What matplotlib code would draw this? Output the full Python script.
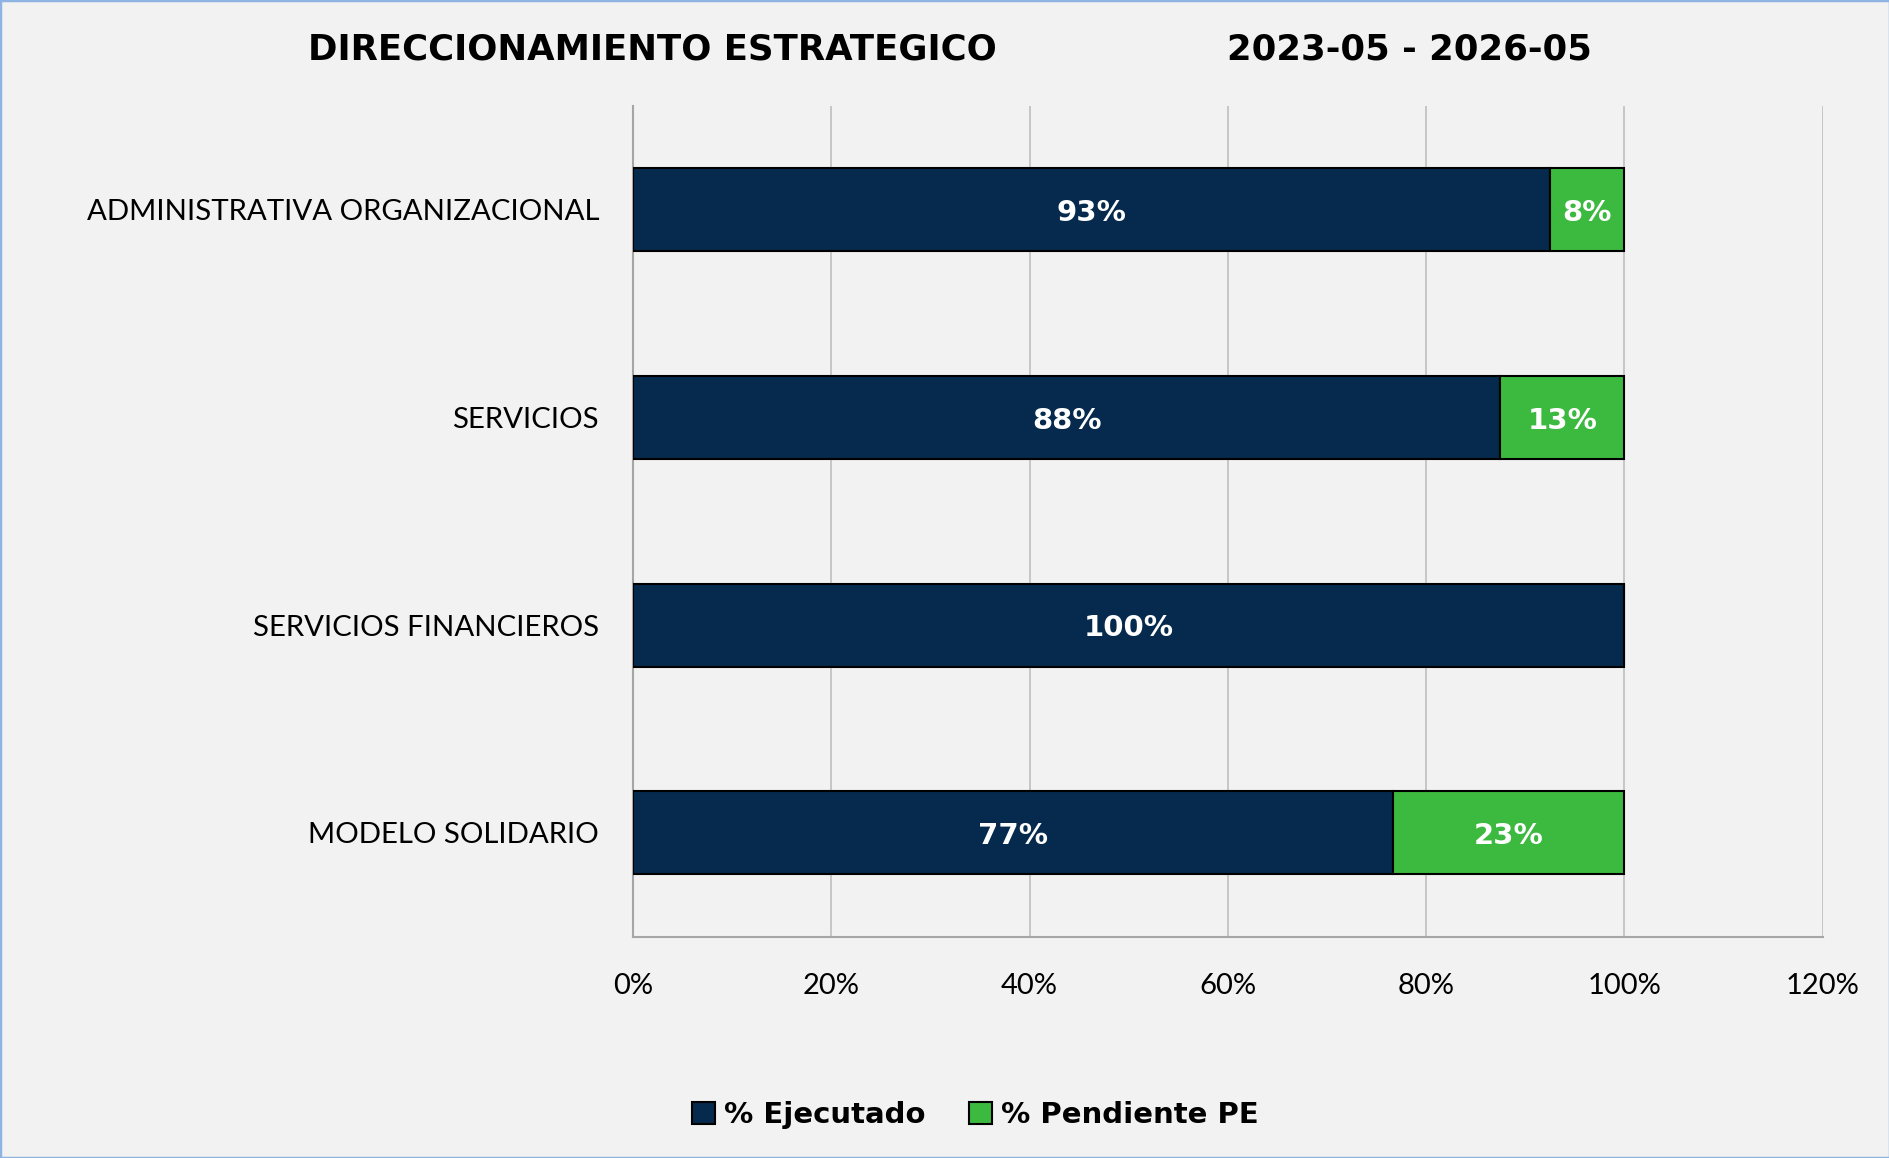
import matplotlib
matplotlib.use("Agg")
import matplotlib.pyplot as plt
from matplotlib.patches import Rectangle, Patch

# data
categories = ["ADMINISTRATIVA ORGANIZACIONAL", "SERVICIOS",
              "SERVICIOS FINANCIEROS", "MODELO SOLIDARIO"]
ejecutado = [0.925, 0.875, 1.0, 0.767]
pendiente = [0.075, 0.125, 0.0, 0.233]
x_ticks = [0, 0.2, 0.4, 0.6, 0.8, 1.0, 1.2]
series_names = ["% Ejecutado", "% Pendiente PE"]

navy = "#062A4D"
green = "#3CB93F"
bg = "#F2F2F2"


def pct(v):
    # Excel-like rounding (half up)
    return f"{int(v * 100 + 0.5 + 1e-9)}%"


fig = plt.figure(figsize=(18.9, 11.58), dpi=100, facecolor=bg)
ax = fig.add_axes([0.335, 0.1912, 0.6293, 0.7173])
ax.set_facecolor(bg)

y = list(range(len(categories)))[::-1]
h = 0.4
ax.barh(y, ejecutado, height=h, color=navy, edgecolor="black", linewidth=1.5, zorder=3)
ax.barh(y, pendiente, left=ejecutado, height=h, color=green, edgecolor="black",
        linewidth=1.5, zorder=3)

lab_font = dict(color="white", fontsize=21, fontweight="bold", family="DejaVu Sans",
                ha="center", va="center", zorder=4)
for yi, e, p in zip(y, ejecutado, pendiente):
    if e > 0:
        ax.text(e / 2, yi - 0.015, pct(e), **lab_font)
    if p > 0:
        ax.text(e + p / 2, yi - 0.015, pct(p), **lab_font)

ax.set_xlim(0, 1.2)
ax.set_ylim(-0.5, len(categories) - 0.5)
ax.set_xticks(x_ticks)
ax.set_xticklabels([f"{int(round(t * 100))}%" for t in x_ticks], fontsize=21, family="Lato")
ax.set_yticks(y)
ax.set_yticklabels(categories, fontsize=21.2, family="Lato")
ax.tick_params(length=0)
ax.tick_params(axis="x", pad=26)
ax.tick_params(axis="y", pad=24.5)
ax.grid(axis="x", color="#BFBFBF", linewidth=1.2, zorder=0)
for s in ["top", "right"]:
    ax.spines[s].set_visible(False)
for s in ["left", "bottom"]:
    ax.spines[s].set_color("#A6A6A6")
    ax.spines[s].set_linewidth(1.5)

fig.text(0.345, 0.957, "DIRECCIONAMIENTO ESTRATEGICO", fontsize=25.6, fontweight="bold",
         ha="center", va="center", family="DejaVu Sans")
fig.text(0.7455, 0.957, "2023-05 - 2026-05", fontsize=25.6, fontweight="bold",
         ha="center", va="center", family="DejaVu Sans")

handles = [Patch(facecolor=navy, edgecolor="black", linewidth=1.5),
           Patch(facecolor=green, edgecolor="black", linewidth=1.5)]
fig.legend(handles, series_names, loc="center", bbox_to_anchor=(0.516, 0.037), ncol=2,
           frameon=False, prop=dict(family="DejaVu Sans", weight="bold", size=21),
           handlelength=0.8, handleheight=0.8, handletextpad=0.3, columnspacing=1.5)

fig.patches.append(Rectangle((0, 0), 1, 1, transform=fig.transFigure, fill=False,
                             edgecolor="#8DB4E2", linewidth=2.5))

fig.savefig("out.png", dpi=100, facecolor=bg)
